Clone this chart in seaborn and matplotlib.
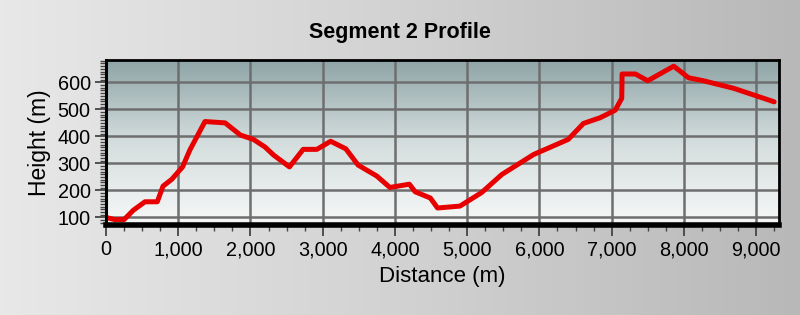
import numpy as np
import pandas as pd
import matplotlib
matplotlib.use("Agg")
import matplotlib.pyplot as plt
import seaborn as sns
from matplotlib.colors import LinearSegmentedColormap
from matplotlib.ticker import MultipleLocator, FuncFormatter

# Data
distance_m = [0, 120, 250, 380, 540, 710, 790, 910, 1060, 1160, 1370, 1650, 1860,
              2040, 2200, 2320, 2540, 2730, 2920, 3110, 3320, 3490, 3750, 3930,
              4200, 4280, 4490, 4590, 4900, 5200, 5480, 5920, 6400, 6610, 6840,
              7050, 7140, 7145, 7330, 7500, 7860, 8065, 8270, 8690, 9250]
height_m = [100, 92, 92, 127, 158, 158, 216, 241, 287, 349, 455, 450, 405,
            389, 361, 331, 287, 352, 352, 382, 354, 294, 253, 211,
            223, 195, 172, 135, 142, 192, 259, 333, 389, 448, 469,
            497, 541, 631, 631, 606, 660, 617, 606, 578, 528]
x_ticks = [0, 1000, 2000, 3000, 4000, 5000, 6000, 7000, 8000, 9000]
y_ticks = [100, 200, 300, 400, 500, 600]

df = pd.DataFrame({"Distance (m)": distance_m, "Height (m)": height_m})

sns.set_theme(style="white")
plt.rcParams['font.family'] = ['Liberation Sans', 'DejaVu Sans']

fig = plt.figure(figsize=(8, 3.15), dpi=100)

# figure background gradient
bg = fig.add_axes([0, 0, 1, 1], zorder=-10)
bg_cmap = LinearSegmentedColormap.from_list("bg", ["#e8e8e8", "#d2d2d2", "#b8b8b8"])
bg.imshow(np.linspace(0, 1, 256).reshape(1, -1), cmap=bg_cmap, aspect='auto',
          extent=[0, 1, 0, 1])
bg.set_axis_off()

ax = fig.add_axes([0.1325, 0.2857, 0.8415, 0.524])
ax.set_facecolor("none")
pa_cmap = LinearSegmentedColormap.from_list("pa", ["#f7f8f8", "#d4dddd", "#8ea4a6"])
ax.imshow(np.linspace(0, 1, 256).reshape(-1, 1), cmap=pa_cmap, aspect='auto',
          extent=[0, 1, 0, 1], origin='lower', transform=ax.transAxes, zorder=0)

sns.lineplot(data=df, x="Distance (m)", y="Height (m)", ax=ax, color="#e80000",
             linewidth=3.6, zorder=3, sort=False, solid_joinstyle='round')

ax.set_xlim(0, 9320)
ax.set_ylim(72, 683)
ax.set_xticks(x_ticks)
ax.set_yticks(y_ticks)
ax.xaxis.set_minor_locator(MultipleLocator(250))
ax.yaxis.set_minor_locator(MultipleLocator(10))
ax.xaxis.set_major_formatter(FuncFormatter(lambda v, p: f"{int(v):,}"))

ax.grid(True, which='major', color="#6e6e6e", linewidth=1.8, zorder=1)
for gl in ax.get_xgridlines() + ax.get_ygridlines():
    gl.set_zorder(1)

for side, lw in [("bottom", 4.0), ("left", 2.2), ("top", 2.0), ("right", 2.0)]:
    ax.spines[side].set_visible(True)
    ax.spines[side].set_color("black")
    ax.spines[side].set_linewidth(lw)
    ax.spines[side].set_zorder(4)

ax.tick_params(axis='both', which='major', direction='out', length=8, width=1.3,
               color="#444444", labelsize=14.3, labelcolor="black", pad=3,
               bottom=True, left=True)
ax.tick_params(axis='both', which='minor', direction='out', length=4, width=1.0,
               color="#444444", bottom=True, left=True)

ax.set_xlabel("Distance (m)", fontsize=16, color="black", labelpad=5)
ax.set_ylabel("Height (m)", fontsize=16.5, color="black", labelpad=5)

fig.text(0.5, 0.898, "Segment 2 Profile", ha='center', va='center',
         fontsize=15.5, fontweight='bold', color="black")

fig.savefig("out.png", dpi=100)
